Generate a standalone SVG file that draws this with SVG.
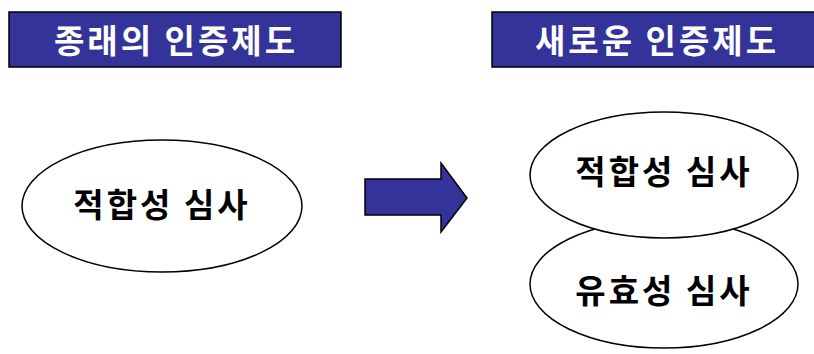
<svg xmlns="http://www.w3.org/2000/svg" width="814" height="354" viewBox="0 0 814 354">
<style>
.hdr{fill:#333399;stroke:#000;stroke-width:1.5}
.ht{font-family:"Noto Sans CJK KR","Noto Sans",sans-serif;font-weight:bold;font-size:33px;fill:#fff;text-anchor:middle;letter-spacing:3px}
.ell{fill:#fff;stroke:#000;stroke-width:1.5}
.et{font-family:"Noto Sans CJK KR","Noto Sans",sans-serif;font-weight:bold;font-size:33px;fill:#000;text-anchor:middle;letter-spacing:3px}
.arr{fill:#333399;stroke:#000;stroke-width:1.5;stroke-linejoin:miter}
</style>
<rect width="814" height="354" fill="#fff"/>
<g id="header-old">
<rect class="hdr" x="9" y="12" width="332" height="55"/>
<text class="ht" x="176" y="53">종래의 인증제도</text>
</g>
<g id="header-new">
<rect class="hdr" x="492" y="12" width="330" height="55"/>
<text class="ht" x="657" y="53">새로운 인증제도</text>
</g>
<g id="old-review">
<ellipse class="ell" cx="162" cy="206" rx="140" ry="66"/>
<text class="et" x="162" y="217">적합성 심사</text>
</g>
<g id="validity-review">
<ellipse class="ell" cx="664" cy="284" rx="134" ry="64"/>
<text class="et" x="664" y="303">유효성 심사</text>
</g>
<g id="conformity-review">
<ellipse class="ell" cx="664" cy="175" rx="134" ry="63"/>
<text class="et" x="664" y="184">적합성 심사</text>
</g>
<g id="connectors">
<polygon class="arr" points="365,179 441,179 441,163 467,198 441,232 441,215 365,215"/>
</g>
</svg>
